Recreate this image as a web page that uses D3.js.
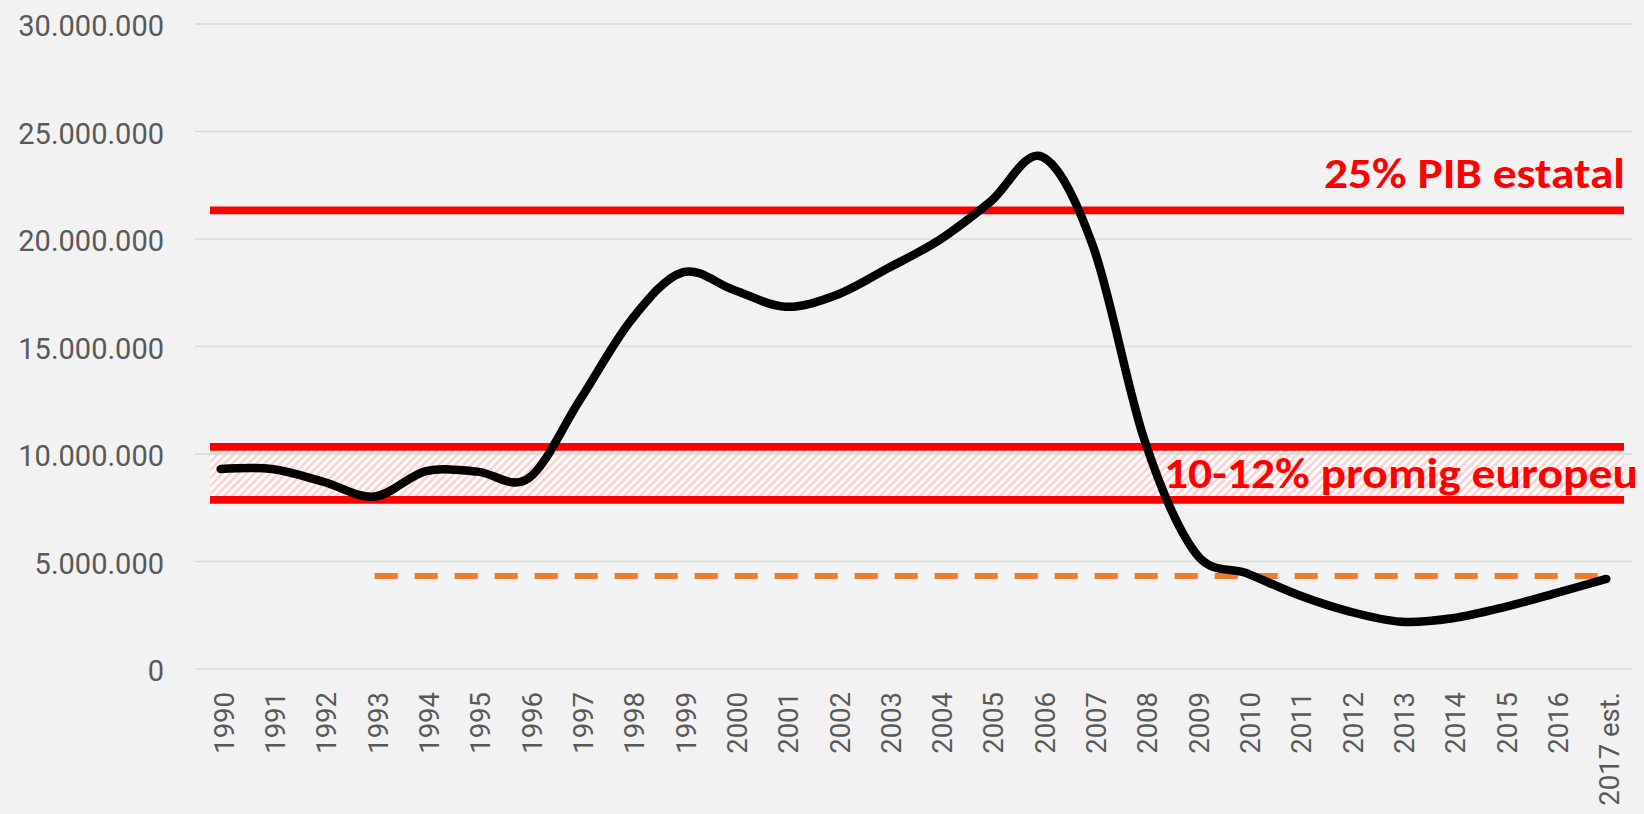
<!DOCTYPE html>
<html><head><meta charset="utf-8">
<script src="https://cdn.jsdelivr.net/npm/d3@7"></script>
<style>html,body{margin:0;padding:0;background:#f2f2f2;overflow:hidden}</style>
</head><body><svg id="c" width="1644" height="814"></svg>
<script>
// ---- data ----
const categories = ["1990","1991","1992","1993","1994","1995","1996","1997","1998","1999",
  "2000","2001","2002","2003","2004","2005","2006","2007","2008","2009",
  "2010","2011","2012","2013","2014","2015","2016","2017 est."];
const seriesValues = [9300000, 9300000, 8710000, 8020000, 9200000, 9180000, 8870000, 12510000,
  16230000, 18450000, 17630000, 16850000, 17400000, 18640000, 19950000, 21740000, 23830000,
  19650000, 10650000, 5380000, 4450000, 3440000, 2670000, 2200000, 2360000, 2870000, 3520000, 4190000];
const yTicks = [0, 5000000, 10000000, 15000000, 20000000, 25000000, 30000000];
const yTickLabels = ["0","5.000.000","10.000.000","15.000.000","20.000.000","25.000.000","30.000.000"];
const pibLevel = 21330000;
const europeBand = [7870000, 10330000];
const referenceLevel = 4330000;
const referenceRange = ["1993", "2017 est."];
const annotationLabels = ["25% PIB estatal", "10-12% promig europeu"];

// ---- layout ----
const W = 1644, H = 814;
const plot = {left: 195, right: 1632, top: 24, bottom: 669};
const svg = d3.select("#c");

const x = d3.scaleBand().domain(categories).range([plot.left, plot.right]).padding(0);
const y = d3.scaleLinear().domain([0, 30000000]).range([plot.bottom, plot.top]);
const cx = c => x(c) + x.bandwidth() / 2;

// pattern
const defs = svg.append("defs");
const pat = defs.append("pattern").attr("id", "hatch").attr("patternUnits", "userSpaceOnUse")
  .attr("width", 8).attr("height", 8);
pat.append("rect").attr("width", 8).attr("height", 8).attr("fill", "#ffffff");
pat.append("path").attr("d", "M-2,2 L2,-2 M0,8 L8,0 M6,10 L10,6")
  .attr("stroke", "#ffd3d3").attr("stroke-width", 2.8);

svg.append("rect").attr("width", W).attr("height", H).attr("fill", "#f2f2f2");

// gridlines
svg.append("g").selectAll("line").data(yTicks).join("line")
  .attr("x1", plot.left).attr("x2", plot.right)
  .attr("y1", d => y(d)).attr("y2", d => y(d))
  .attr("stroke", "#d9d9d9").attr("stroke-width", 1.5);

// y labels
svg.append("g").selectAll("text").data(yTicks).join("text")
  .attr("x", 164).attr("y", d => y(d) + 12)
  .attr("text-anchor", "end")
  .attr("font-family", "Roboto, sans-serif").attr("font-weight", 400)
  .attr("font-size", 29).attr("fill", "#595959")
  .text((d, i) => yTickLabels[i]);

// x labels
svg.append("g").selectAll("text").data(categories).join("text")
  .attr("transform", d => `translate(${cx(d) + 13},692) rotate(-90)`)
  .attr("text-anchor", "end")
  .attr("font-family", "Roboto, sans-serif").attr("font-weight", 400)
  .attr("font-size", 27.5).attr("fill", "#595959")
  .text(d => d);

// band + red lines
const lineX1 = plot.left + 15, lineX2 = plot.right - 8;
svg.append("rect").attr("x", lineX1).attr("width", lineX2 - lineX1)
  .attr("y", y(europeBand[1])).attr("height", y(europeBand[0]) - y(europeBand[1]))
  .attr("fill", "url(#hatch)");
svg.append("line").attr("x1", lineX1).attr("x2", plot.right)
  .attr("y1", y(10000000)).attr("y2", y(10000000))
  .attr("stroke", "#d9d9d9").attr("stroke-width", 1.5);

svg.append("g").selectAll("line").data([pibLevel, europeBand[0], europeBand[1]]).join("line")
  .attr("x1", lineX1).attr("x2", lineX2)
  .attr("y1", d => y(d)).attr("y2", d => y(d))
  .attr("stroke", "#ff0000").attr("stroke-width", 7.7);

// orange dashed reference
svg.append("line")
  .attr("x1", cx(referenceRange[0])).attr("x2", cx(referenceRange[1]))
  .attr("y1", y(referenceLevel)).attr("y2", y(referenceLevel))
  .attr("stroke", "#ed7d31").attr("stroke-width", 6)
  .attr("stroke-dasharray", "23 17");

// main series
const line = d3.line().x((d, i) => cx(categories[i])).y(d => y(d)).curve(d3.curveCatmullRom.alpha(0));
svg.append("path").attr("d", line(seriesValues))
  .attr("fill", "none").attr("stroke", "#000").attr("stroke-width", 8.5)
  .attr("stroke-linecap", "round").attr("stroke-linejoin", "round");

// annotations
svg.append("text").attr("x", 1625).attr("y", 188).attr("text-anchor", "end")
  .attr("font-family", "Carlito, Lato, 'Open Sans', sans-serif").attr("font-weight", 700)
  .attr("font-size", 42).attr("fill", "#ff0000")
  .attr("textLength", 301).attr("lengthAdjust", "spacingAndGlyphs")
  .text(annotationLabels[0]);
svg.append("text").attr("x", 1638).attr("y", 488).attr("text-anchor", "end")
  .attr("font-family", "Carlito, Lato, 'Open Sans', sans-serif").attr("font-weight", 700)
  .attr("font-size", 42).attr("fill", "#ff0000")
  .attr("textLength", 474).attr("lengthAdjust", "spacingAndGlyphs")
  .text(annotationLabels[1]);
</script>
</body></html>
